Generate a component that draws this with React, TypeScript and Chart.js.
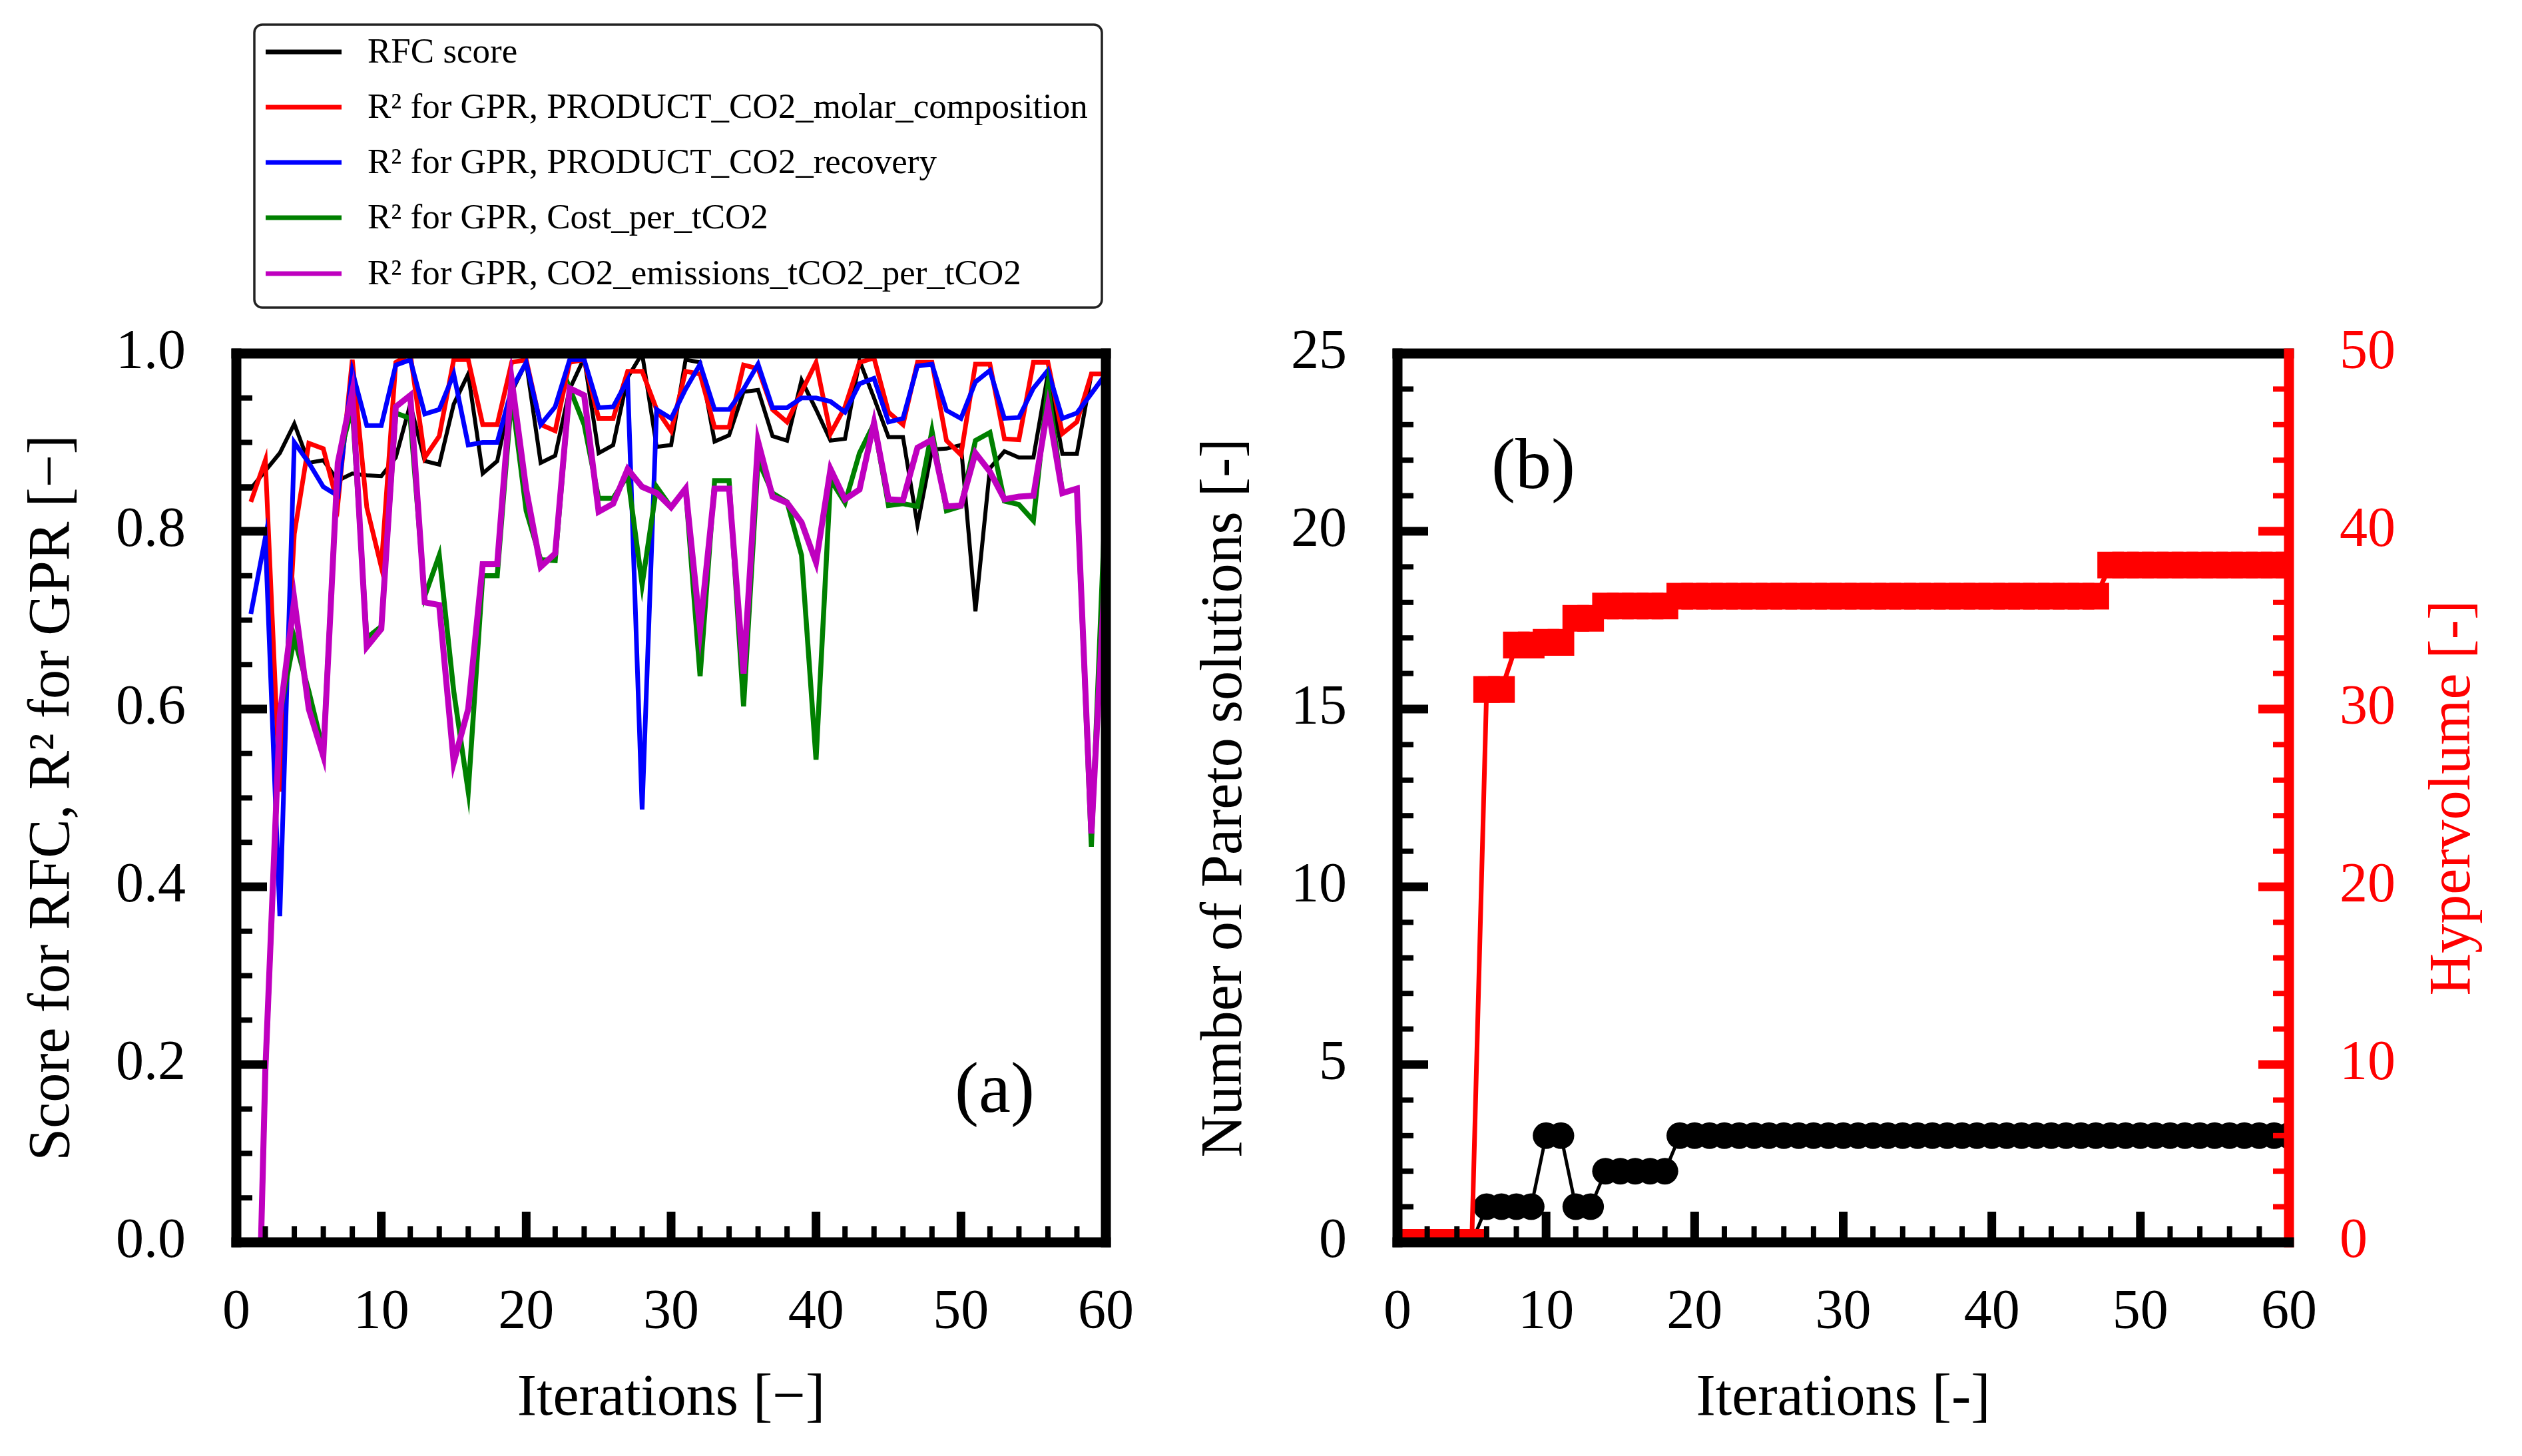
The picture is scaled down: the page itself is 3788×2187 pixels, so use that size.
import React, { useEffect, useRef } from 'react';
import { Chart, registerables } from 'chart.js';

Chart.register(...registerables);

const FONT = "'Liberation Serif', 'Times New Roman', Times, serif";

// ---------- data ----------
const iterations = [
  0, 1, 2, 3, 4, 5, 6, 7, 8, 9, 10, 11, 12, 13, 14, 15, 16, 17, 18, 19, 20,
  21, 22, 23, 24, 25, 26, 27, 28, 29, 30, 31, 32, 33, 34, 35, 36, 37, 38, 39, 40,
  41, 42, 43, 44, 45, 46, 47, 48, 49, 50, 51, 52, 53, 54, 55, 56, 57, 58, 59, 60,
];

const rfcScore = [
  0.848, 0.848, 0.868, 0.888, 0.921, 0.877, 0.88, 0.857, 0.865, 0.863, 0.862,
  0.883, 0.943, 0.879, 0.875, 0.943, 0.977, 0.865, 0.879, 0.957, 0.99,
  0.877, 0.885, 0.96, 0.995, 0.888, 0.897, 0.973, 1.0, 0.895, 0.897,
  0.993, 0.99, 0.901, 0.908, 0.957, 0.959, 0.907, 0.902, 0.97, 0.937,
  0.902, 0.904, 0.992, 0.95, 0.906, 0.906, 0.807, 0.892, 0.893, 0.897,
  0.71, 0.871, 0.89, 0.883, 0.883, 0.977, 0.887, 0.887, 0.977, 0.977,
];

const r2MolarComposition = [
  null, 0.833, 0.88, 0.507, 0.797, 0.899, 0.893, 0.83, 0.993, 0.827, 0.76,
  0.99, 1.0, 0.883, 0.907, 0.993, 0.993, 0.92, 0.92, 0.99, 0.993,
  0.92, 0.913, 0.99, 0.993, 0.927, 0.927, 0.98, 0.98, 0.937, 0.913,
  0.98, 0.977, 0.917, 0.917, 0.987, 0.983, 0.937, 0.923, 0.957, 0.99,
  0.91, 0.94, 0.99, 0.995, 0.934, 0.92, 0.99, 0.99, 0.902, 0.886,
  0.988, 0.988, 0.904, 0.903, 0.99, 0.99, 0.91, 0.923, 0.977, 0.977,
];

const r2Recovery = [
  null, 0.707, 0.793, 0.367, 0.9, 0.877, 0.85, 0.84, 0.98, 0.919, 0.919,
  0.987, 0.993, 0.932, 0.937, 0.977, 0.897, 0.9, 0.9, 0.96, 0.99,
  0.92, 0.94, 0.993, 0.993, 0.939, 0.94, 0.97, 0.487, 0.937, 0.927,
  0.96, 0.988, 0.937, 0.937, 0.96, 0.988, 0.939, 0.939, 0.95, 0.95,
  0.946, 0.934, 0.966, 0.972, 0.923, 0.927, 0.986, 0.988, 0.936, 0.927,
  0.968, 0.981, 0.927, 0.928, 0.961, 0.981, 0.927, 0.933, 0.955, 0.977,
];

const r2Cost = [
  null, -0.45, 0.19, 0.593, 0.68, 0.62, 0.553, 0.877, 0.94, 0.68, 0.693,
  0.933, 0.927, 0.727, 0.773, 0.62, 0.507, 0.75, 0.75, 0.953, 0.823,
  0.768, 0.767, 0.961, 0.92, 0.837, 0.837, 0.863, 0.74, 0.85, 0.827,
  0.848, 0.637, 0.857, 0.857, 0.603, 0.88, 0.843, 0.833, 0.773, 0.543,
  0.858, 0.832, 0.888, 0.921, 0.829, 0.831, 0.828, 0.913, 0.823, 0.828,
  0.902, 0.911, 0.834, 0.83, 0.812, 0.963, 0.843, 0.848, 0.445, 0.85,
];

const r2Emissions = [
  null, -0.45, 0.193, 0.593, 0.723, 0.6, 0.547, 0.877, 0.957, 0.67, 0.69,
  0.94, 0.953, 0.72, 0.717, 0.54, 0.6, 0.763, 0.763, 0.97, 0.847,
  0.76, 0.775, 0.961, 0.953, 0.822, 0.831, 0.87, 0.85, 0.843, 0.827,
  0.848, 0.69, 0.848, 0.848, 0.64, 0.901, 0.839, 0.832, 0.81, 0.765,
  0.87, 0.836, 0.847, 0.922, 0.836, 0.835, 0.894, 0.903, 0.828, 0.829,
  0.888, 0.867, 0.836, 0.839, 0.84, 0.94, 0.843, 0.848, 0.46, 0.77,
];

const paretoCount = [
  0, 0, 0, 0, 0, 0, 1, 1, 1, 1, 3,
  3, 1, 1, 2, 2, 2, 2, 2, 3, 3,
  3, 3, 3, 3, 3, 3, 3, 3, 3, 3,
  3, 3, 3, 3, 3, 3, 3, 3, 3, 3,
  3, 3, 3, 3, 3, 3, 3, 3, 3, 3,
  3, 3, 3, 3, 3, 3, 3, 3, 3, 3,
];

const hypervolume = [
  0, 0, 0, 0, 0, 0, 31.1, 31.1, 33.6, 33.6, 33.75,
  33.75, 35.1, 35.1, 35.8, 35.8, 35.8, 35.8, 35.8, 36.35, 36.35,
  36.35, 36.35, 36.35, 36.35, 36.35, 36.35, 36.35, 36.35, 36.35, 36.35,
  36.35, 36.35, 36.35, 36.35, 36.35, 36.35, 36.35, 36.35, 36.35, 36.35,
  36.35, 36.35, 36.35, 36.35, 36.35, 36.35, 36.35, 38.1, 38.1, 38.1,
  38.1, 38.1, 38.1, 38.1, 38.1, 38.1, 38.1, 38.1, 38.1, 38.1,
];

const xTitleA = 'Iterations [−]';
const xTitleB = 'Iterations [-]';

// ---------- helpers ----------
type XY = { x: number; y: number };
function toXY(values: (number | null)[]): XY[] {
  const out: XY[] = [];
  values.forEach((v, i) => {
    if (v !== null && v !== undefined) out.push({ x: iterations[i], y: v });
  });
  return out;
}

type TickSpec = {
  axis: string;
  side: 'left' | 'right' | 'bottom';
  major: number;
  minor: number;
  color: string;
};

const SPINE_W = 15;
const MAJOR_LEN = 46;
const MINOR_LEN = 24;

function drawTicks(chart: any, spec: TickSpec) {
  const s = chart.scales[spec.axis];
  const { left, right, bottom } = chart.chartArea;
  const ctx = chart.ctx as CanvasRenderingContext2D;
  ctx.strokeStyle = spec.color;
  ctx.lineCap = 'butt';
  const n = Math.round((s.max - s.min) / spec.minor);
  for (let k = 0; k <= n; k++) {
    const v = s.min + k * spec.minor;
    const r = v / spec.major;
    const isMajor = Math.abs(r - Math.round(r)) < 1e-6;
    const len = isMajor ? MAJOR_LEN : MINOR_LEN;
    ctx.lineWidth = isMajor ? 13 : 8;
    const p = s.getPixelForValue(v);
    ctx.beginPath();
    if (spec.side === 'left') {
      ctx.moveTo(left, p);
      ctx.lineTo(left + len, p);
    } else if (spec.side === 'right') {
      ctx.moveTo(right, p);
      ctx.lineTo(right - len, p);
    } else {
      ctx.moveTo(p, bottom);
      ctx.lineTo(p, bottom - len);
    }
    ctx.stroke();
  }
}

function drawSpines(chart: any, rightColor: string) {
  const { left, right, top, bottom } = chart.chartArea;
  const ctx = chart.ctx as CanvasRenderingContext2D;
  const h = SPINE_W / 2;
  ctx.lineWidth = SPINE_W;
  ctx.lineCap = 'butt';
  const seg = (x1: number, y1: number, x2: number, y2: number, c: string) => {
    ctx.strokeStyle = c;
    ctx.beginPath();
    ctx.moveTo(x1, y1);
    ctx.lineTo(x2, y2);
    ctx.stroke();
  };
  seg(left - h, top, right + h, top, '#000000');
  seg(left, top - h, left, bottom + h, '#000000');
  seg(right, top - h, right, bottom + h, rightColor);
  seg(left - h, bottom, right + h, bottom, '#000000');
}

function baseScale(extra: any) {
  return {
    grid: { display: false, drawTicks: false },
    border: { display: false },
    ...extra,
  };
}

const tickFont = { family: FONT, size: 84, lineHeight: 1.2 };
const titleFont = { family: FONT, size: 88, lineHeight: 1.2 };

// ---------- component ----------
export default function App() {
  const refA = useRef<HTMLCanvasElement | null>(null);
  const refB = useRef<HTMLCanvasElement | null>(null);

  useEffect(() => {
    if (!refA.current || !refB.current) return;

    const legendEntries = [
      { label: 'RFC score', color: '#000000' },
      { label: 'R² for GPR, PRODUCT_CO2_molar_composition', color: '#ff0000' },
      { label: 'R² for GPR, PRODUCT_CO2_recovery', color: '#0000ff' },
      { label: 'R² for GPR, Cost_per_tCO2', color: '#008000' },
      { label: 'R² for GPR, CO2_emissions_tCO2_per_tCO2', color: '#bf00bf' },
    ];

    const pluginA = {
      id: 'frameA',
      afterDatasetsDraw(chart: any) {
        const ctx = chart.ctx as CanvasRenderingContext2D;
        ctx.save();
        drawTicks(chart, { axis: 'y', side: 'left', major: 0.2, minor: 0.05, color: '#000000' });
        drawTicks(chart, { axis: 'x', side: 'bottom', major: 10, minor: 2, color: '#000000' });
        drawSpines(chart, '#000000');

        // panel tag
        ctx.fillStyle = '#000000';
        ctx.font = `108px ${FONT}`;
        ctx.textAlign = 'center';
        ctx.textBaseline = 'middle';
        ctx.fillText('(a)', 1494, 1642);

        // legend box
        const bx = 382, by = 37, bw = 1273, bh = 425, rad = 12;
        ctx.beginPath();
        ctx.moveTo(bx + rad, by);
        ctx.lineTo(bx + bw - rad, by);
        ctx.arcTo(bx + bw, by, bx + bw, by + rad, rad);
        ctx.lineTo(bx + bw, by + bh - rad);
        ctx.arcTo(bx + bw, by + bh, bx + bw - rad, by + bh, rad);
        ctx.lineTo(bx + rad, by + bh);
        ctx.arcTo(bx, by + bh, bx, by + bh - rad, rad);
        ctx.lineTo(bx, by + rad);
        ctx.arcTo(bx, by, bx + rad, by, rad);
        ctx.closePath();
        ctx.fillStyle = '#ffffff';
        ctx.fill();
        ctx.lineWidth = 3.5;
        ctx.strokeStyle = '#222222';
        ctx.stroke();

        const rows = [78, 161, 244, 327, 411];
        ctx.font = `53px ${FONT}`;
        ctx.textAlign = 'left';
        ctx.textBaseline = 'middle';
        legendEntries.forEach((e, i) => {
          ctx.strokeStyle = e.color;
          ctx.lineWidth = 7;
          ctx.beginPath();
          ctx.moveTo(399, rows[i]);
          ctx.lineTo(513, rows[i]);
          ctx.stroke();
          ctx.fillStyle = '#000000';
          ctx.fillText(e.label, 552, rows[i] + 2);
        });
        ctx.restore();
      },
    };

    const chartA = new Chart(refA.current, {
      type: 'line',
      data: {
        datasets: [
          { label: legendEntries[0].label, data: toXY(rfcScore), borderColor: '#000000', borderWidth: 6, order: 5 },
          { label: legendEntries[1].label, data: toXY(r2MolarComposition), borderColor: '#ff0000', borderWidth: 7, order: 4 },
          { label: legendEntries[2].label, data: toXY(r2Recovery), borderColor: '#0000ff', borderWidth: 7, order: 3 },
          { label: legendEntries[3].label, data: toXY(r2Cost), borderColor: '#008000', borderWidth: 7.5, order: 2 },
          { label: legendEntries[4].label, data: toXY(r2Emissions), borderColor: '#bf00bf', borderWidth: 9, order: 1 },
        ] as any,
      },
      options: {
        animation: false,
        responsive: false,
        devicePixelRatio: 1,
        layout: { padding: { top: 531, right: 60, bottom: 0, left: 0 } },
        elements: { point: { radius: 0, hoverRadius: 0 }, line: { tension: 0, borderJoinStyle: 'miter' } },
        datasets: { line: { clip: 0 } } as any,
        plugins: { legend: { display: false }, tooltip: { enabled: false } },
        scales: {
          x: baseScale({
            type: 'linear',
            min: 0,
            max: 60,
            afterFit: (s: any) => { s.height = 321; },
            ticks: { stepSize: 10, padding: 57, maxRotation: 0, font: tickFont, color: '#000000' },
            title: { display: true, text: xTitleA, font: titleFont, color: '#000000', padding: { top: 0, bottom: 32 } },
          }),
          y: baseScale({
            type: 'linear',
            min: 0,
            max: 1,
            afterFit: (s: any) => { s.width = 355; },
            ticks: { stepSize: 0.2, padding: 76, font: tickFont, color: '#000000', callback: (v: any) => Number(v).toFixed(1) },
            title: { display: true, text: 'Score for RFC, R² for GPR [−]', font: titleFont, color: '#000000', padding: { top: 27, bottom: 0 } },
          }),
        },
      } as any,
      plugins: [pluginA],
    });

    const pluginB = {
      id: 'frameB',
      afterDatasetsDraw(chart: any) {
        const ctx = chart.ctx as CanvasRenderingContext2D;
        const { top, bottom } = chart.chartArea;
        ctx.save();
        drawTicks(chart, { axis: 'y', side: 'left', major: 5, minor: 1, color: '#000000' });
        drawTicks(chart, { axis: 'x', side: 'bottom', major: 10, minor: 2, color: '#000000' });
        drawTicks(chart, { axis: 'y1', side: 'right', major: 10, minor: 2, color: '#ff0000' });
        drawSpines(chart, '#ff0000');

        ctx.fillStyle = '#000000';
        ctx.font = `108px ${FONT}`;
        ctx.textAlign = 'center';
        ctx.textBaseline = 'middle';
        ctx.fillText('(b)', 543, 705);

        // right axis title, reading bottom to top
        ctx.save();
        ctx.translate(1926, (top + bottom) / 2);
        ctx.rotate(-Math.PI / 2);
        ctx.fillStyle = '#ff0000';
        ctx.font = `88px ${FONT}`;
        ctx.textAlign = 'center';
        ctx.textBaseline = 'middle';
        ctx.fillText('Hypervolume [-]', 0, 0);
        ctx.restore();
        ctx.restore();
      },
    };

    const chartB = new Chart(refB.current, {
      type: 'line',
      data: {
        datasets: [
          {
            label: 'Number of Pareto solutions',
            data: toXY(paretoCount),
            yAxisID: 'y',
            borderColor: '#000000',
            backgroundColor: '#000000',
            borderWidth: 5,
            pointStyle: 'circle',
            pointRadius: 20,
            pointBackgroundColor: '#000000',
            pointBorderWidth: 0,
            order: 2,
          },
          {
            label: 'Hypervolume',
            data: toXY(hypervolume),
            yAxisID: 'y1',
            borderColor: '#ff0000',
            backgroundColor: '#ff0000',
            borderWidth: 7,
            pointStyle: 'rect',
            pointRadius: 28.3,
            pointBackgroundColor: '#ff0000',
            pointBorderWidth: 0,
            order: 1,
          },
        ] as any,
      },
      options: {
        animation: false,
        responsive: false,
        devicePixelRatio: 1,
        layout: { padding: { top: 531, right: 0, bottom: 0, left: 0 } },
        elements: { line: { tension: 0 }, point: { hoverRadius: 20 } },
        datasets: { line: { clip: 0 } } as any,
        plugins: { legend: { display: false }, tooltip: { enabled: false } },
        scales: {
          x: baseScale({
            type: 'linear',
            min: 0,
            max: 60,
            afterFit: (s: any) => { s.height = 321; },
            ticks: { stepSize: 10, padding: 57, maxRotation: 0, font: tickFont, color: '#000000' },
            title: { display: true, text: xTitleB, font: titleFont, color: '#000000', padding: { top: 0, bottom: 32 } },
          }),
          y: baseScale({
            type: 'linear',
            position: 'left',
            min: 0,
            max: 25,
            afterFit: (s: any) => { s.width = 339; },
            ticks: { stepSize: 5, padding: 76, font: tickFont, color: '#000000' },
            title: { display: true, text: 'Number of Pareto solutions [-]', font: titleFont, color: '#000000', padding: { top: 28, bottom: 0 } },
          }),
          y1: baseScale({
            type: 'linear',
            position: 'right',
            min: 0,
            max: 50,
            afterFit: (s: any) => { s.width = 350; },
            ticks: { stepSize: 10, padding: 76, font: tickFont, color: '#ff0000' },
          }),
        },
      } as any,
      plugins: [pluginB],
    });

    return () => {
      chartA.destroy();
      chartB.destroy();
    };
  }, []);

  return (
    <div style={{ position: 'absolute', left: 0, top: 0, width: 3788, height: 2187, background: '#ffffff' }}>
      <canvas
        ref={refA}
        width={1760}
        height={2187}
        style={{ position: 'absolute', left: 0, top: 0, width: 1760, height: 2187 }}
      />
      <canvas
        ref={refB}
        width={2028}
        height={2187}
        style={{ position: 'absolute', left: 1760, top: 0, width: 2028, height: 2187 }}
      />
    </div>
  );
}
